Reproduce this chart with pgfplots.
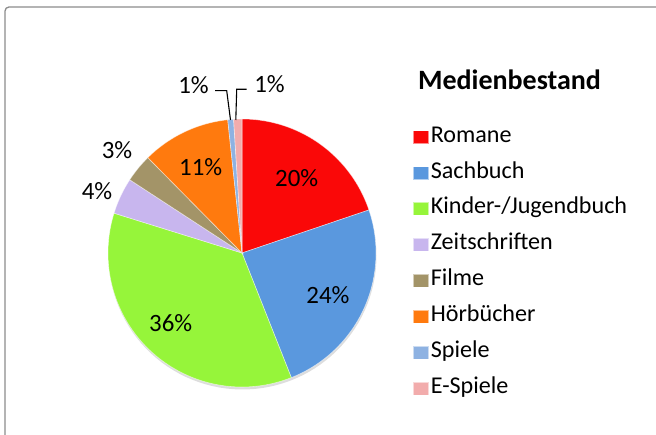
\documentclass[border=0pt]{standalone}
\usepackage{pgfplots}
\pgfplotsset{compat=1.18}
\usepackage{pgfplotstable}
\usepackage{fontspec}
\setmainfont{Carlito}

\definecolor{col0}{RGB}{250,8,8}
\definecolor{col1}{RGB}{90,152,222}
\definecolor{col2}{RGB}{150,245,58}
\definecolor{col3}{RGB}{200,182,238}
\definecolor{col4}{RGB}{163,148,104}
\definecolor{col5}{RGB}{255,122,14}
\definecolor{col6}{RGB}{142,178,226}
\definecolor{col7}{RGB}{242,172,172}

% value in percent; lx ly = label position (image pixels, y downward)
\pgfplotstableread{
label value lx ly
Romane 19.8 296.7 178.3
Sachbuch 24.2 328 295
Kinder-/Jugendbuch 35.8 170.7 323
Zeitschriften 4.4 97 190.8
Filme 3.4 117 150
Hörbücher 10.7 200.7 166.7
Spiele 0.7 193.5 85
E-Spiele 1.0 269.5 84
}\data

\begin{document}
\begin{tikzpicture}
\useasboundingbox (0,0) rectangle (656bp,435bp);
\begin{axis}[
  at={(0,0)}, anchor=south west,
  scale only axis, width=656bp, height=435bp,
  xmin=0, xmax=656, ymin=0, ymax=435,
  hide axis, clip=false,
  legend cell align=left,
  legend image code/.code={\fill[#1] (0bp,-6.5bp) rectangle (15.5bp,6.5bp);},
  legend style={draw=none, fill=none, at={(axis cs:412.5,310)}, anchor=north west,
    inner sep=0pt, row sep=11.9bp, column sep=0pt,
    font=\fontsize{24.2}{28}\selectfont,
    nodes={inner sep=2bp, text height=15bp, text depth=5bp}},
]
% soft shadow
\addplot[forget plot, fill=black!22, draw=none, opacity=0.6, domain=0:360, samples=120]
  ({242.5+134*cos(x)},{179.5+134*sin(x)}) -- cycle;
\def\cum{90}
\pgfplotsforeachungrouped \i in {0,...,7}{%
  \pgfplotstablegetelem{\i}{value}\of\data \let\v\pgfplotsretval
  \pgfplotstablegetelem{\i}{label}\of\data \let\lab\pgfplotsretval
  \pgfplotstablegetelem{\i}{lx}\of\data \let\lx\pgfplotsretval
  \pgfplotstablegetelem{\i}{ly}\of\data \let\ly\pgfplotsretval
  \pgfmathsetmacro\a{\cum}%
  \pgfmathsetmacro\b{\cum-3.6*\v}%
  \pgfmathsetmacro\lyy{435-\ly}%
  \pgfmathtruncatemacro\p{round(\v)}%
  \edef\cmd{%
    \noexpand\addplot[fill=col\i, draw=white, draw opacity=0.55, line width=0.6bp,
      domain=\b:\a, samples=60]
      ({242+134*cos(x)},{182+134*sin(x)}) -- (axis cs:242,182) -- cycle;
    \noexpand\addlegendentry{\lab}
    \noexpand\node[font=\noexpand\fontsize{25}{29}\noexpand\selectfont, inner sep=0pt]
      at (axis cs:\lx,\lyy) {\p\noexpand\%};
  }\cmd
  \let\cum\b
}
% leader lines for the two 1% labels
\draw[black, line width=1.1bp] (axis cs:215,344.3) -- (axis cs:226.7,344.3) -- (axis cs:230.5,315);
\draw[black, line width=1.1bp] (axis cs:246.7,345.7) -- (axis cs:236.7,345.7) -- (axis cs:235.8,315);
% title
\node[font=\bfseries\fontsize{28.1}{32}\selectfont, inner sep=0pt] at (axis cs:509.5,355.7) {Medienbestand};
% chart border (top and left visible)
\draw[black!45, line width=1.3bp, rounded corners=4bp] (axis cs:5,0) -- (axis cs:5,428) -- (axis cs:656,428);
\end{axis}
\end{tikzpicture}
\end{document}
